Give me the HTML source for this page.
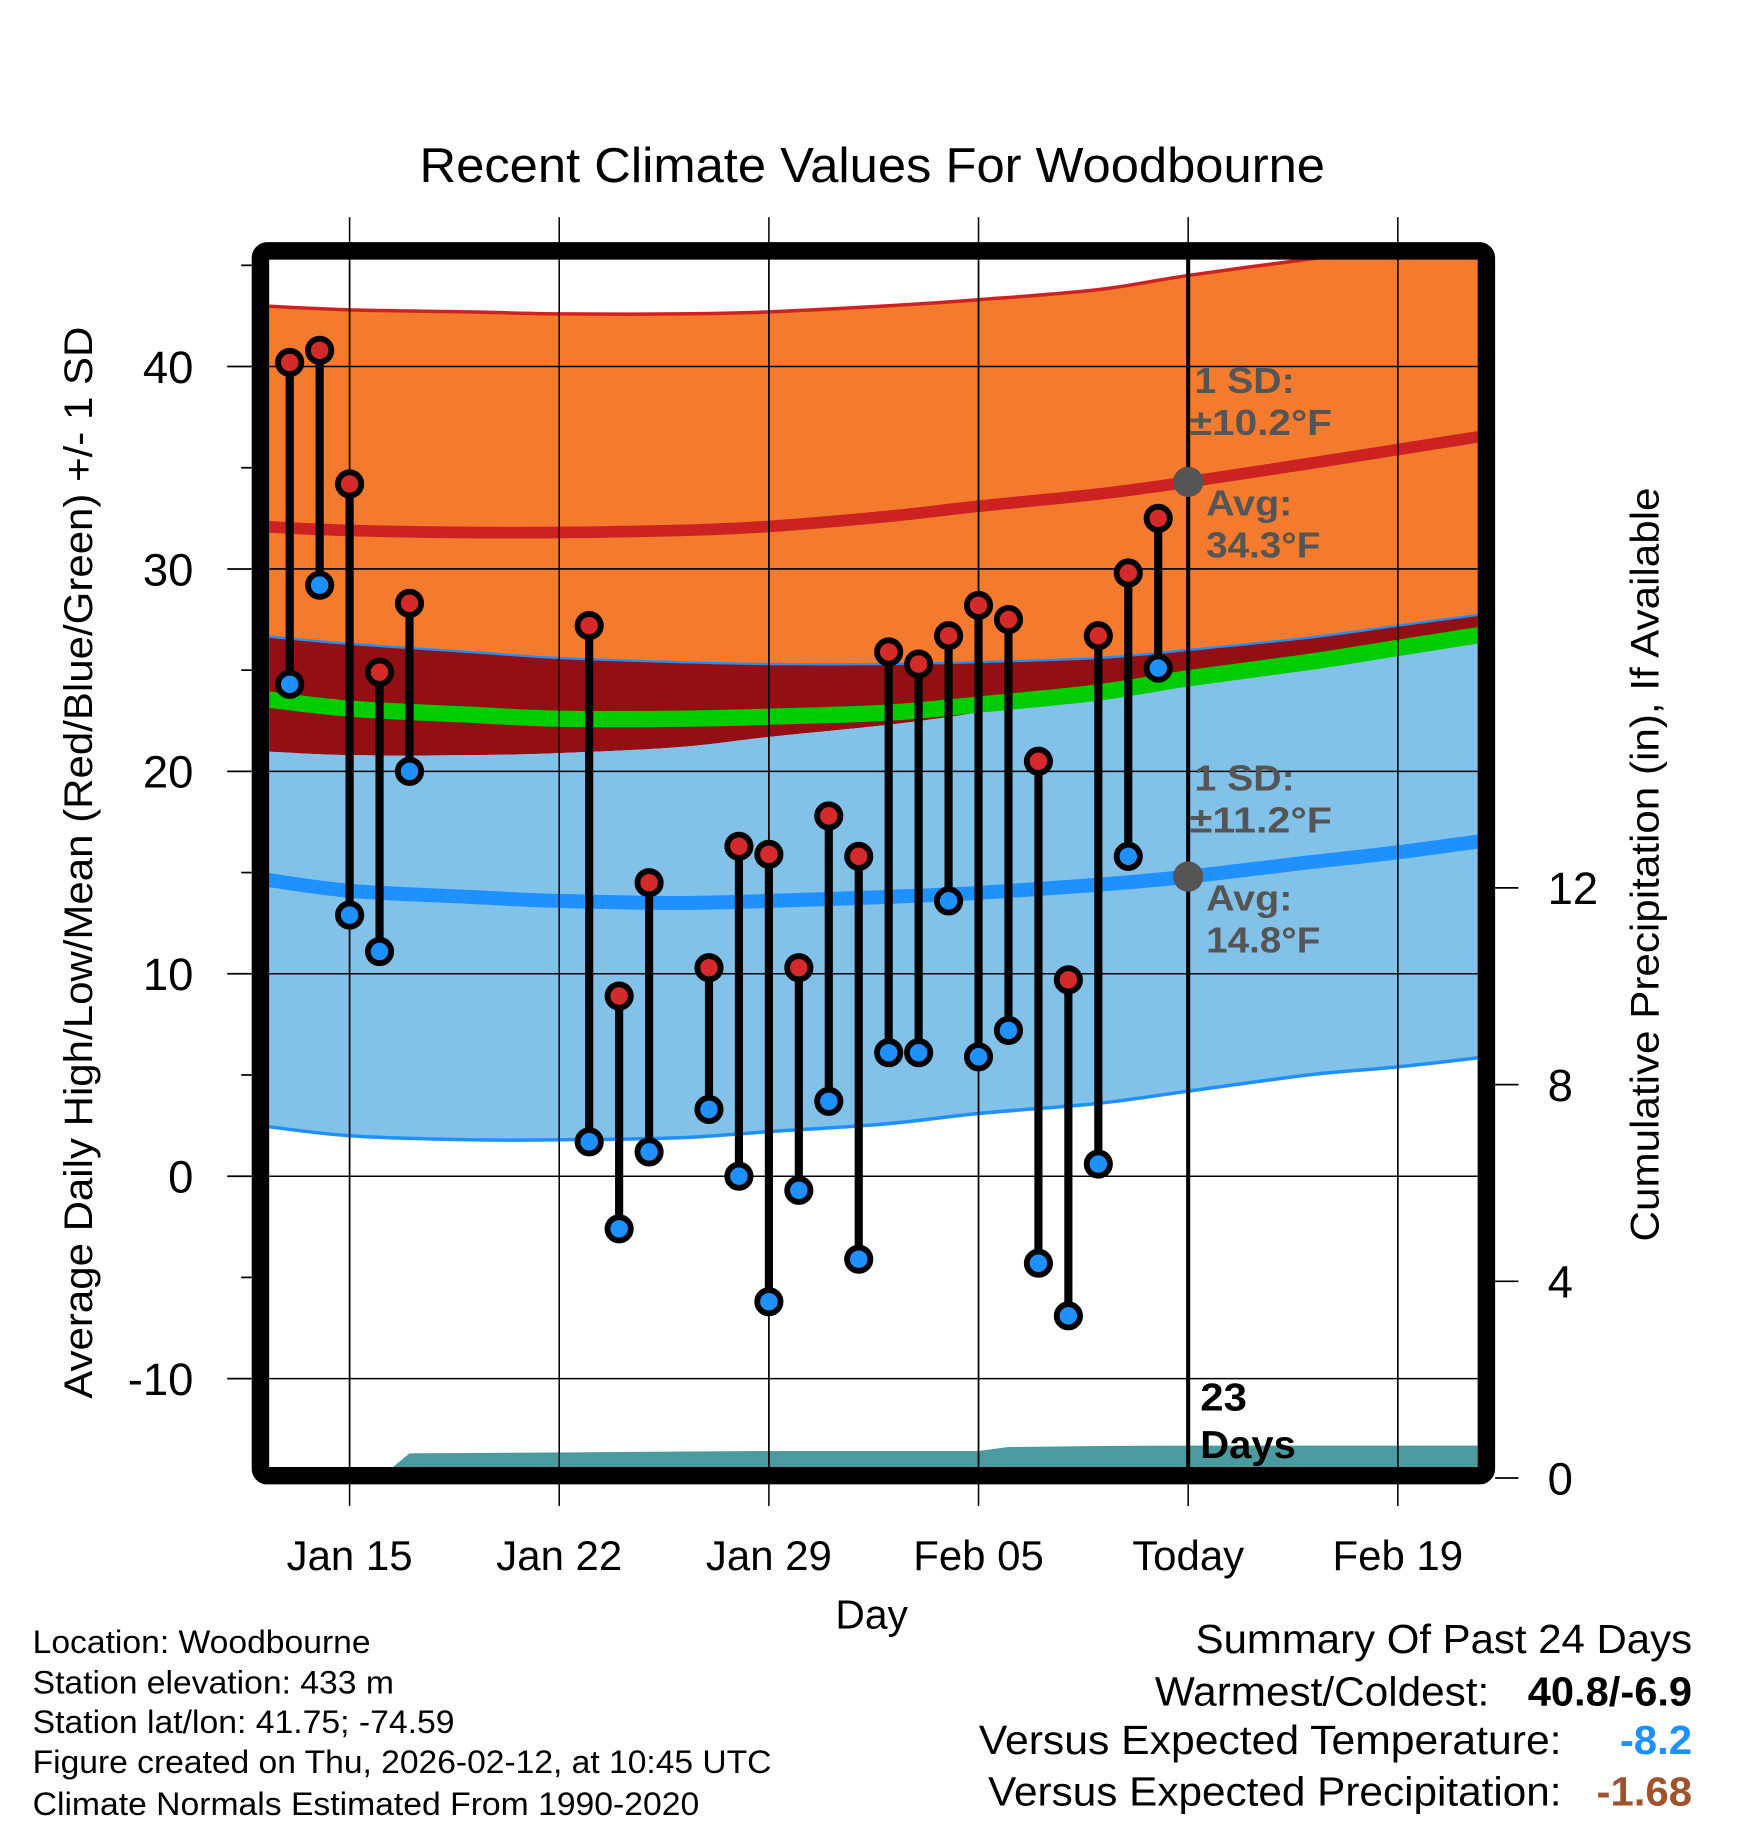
<!DOCTYPE html>
<html><head><meta charset="utf-8"><style>
html,body{margin:0;padding:0;background:#fff;}
svg{display:block;font-family:"Liberation Sans",Arial,sans-serif;}
</style></head><body>
<svg id="chart" width="1748" height="1828" viewBox="0 0 1500 1568" xmlns="http://www.w3.org/2000/svg">
<defs><clipPath id="plotClip"><rect x="231" y="222" width="1037" height="1037"/></clipPath></defs>
<text x="360" y="156" font-size="42" textLength="777" lengthAdjust="spacingAndGlyphs">Recent Climate Values For Woodbourne</text>
<g id="grid"></g>
<g id="plot" clip-path="url(#plotClip)"></g>
<g id="overlay"></g>
<text transform="translate(79,1200) rotate(-90)" font-size="34" textLength="920" lengthAdjust="spacingAndGlyphs">Average Daily High/Low/Mean (Red/Blue/Green) +/- 1 SD</text>
<text transform="translate(1423,1065) rotate(-90)" font-size="34" textLength="647" lengthAdjust="spacingAndGlyphs">Cumulative Precipitation (in), If Available</text>
<text x="748" y="1397" font-size="35" text-anchor="middle">Day</text>
<g font-size="28">
<text x="28" y="1418" textLength="290" lengthAdjust="spacingAndGlyphs">Location: Woodbourne</text>
<text x="28" y="1453" textLength="310" lengthAdjust="spacingAndGlyphs">Station elevation: 433 m</text>
<text x="28" y="1487" textLength="362" lengthAdjust="spacingAndGlyphs">Station lat/lon: 41.75; -74.59</text>
<text x="28" y="1521" textLength="634" lengthAdjust="spacingAndGlyphs">Figure created on Thu, 2026-02-12, at 10:45 UTC</text>
<text x="28" y="1557" textLength="572" lengthAdjust="spacingAndGlyphs">Climate Normals Estimated From 1990-2020</text>
</g>
<g font-size="35">
<text x="1026" y="1418" textLength="426" lengthAdjust="spacingAndGlyphs">Summary Of Past 24 Days</text>
<text x="991" y="1463" textLength="287" lengthAdjust="spacingAndGlyphs">Warmest/Coldest:</text>
<text x="1311" y="1463" font-weight="bold" textLength="141" lengthAdjust="spacingAndGlyphs">40.8/-6.9</text>
<text x="840" y="1505" textLength="500" lengthAdjust="spacingAndGlyphs">Versus Expected Temperature:</text>
<text x="1390" y="1505" font-weight="bold" fill="#1e90ff" textLength="62" lengthAdjust="spacingAndGlyphs">-8.2</text>
<text x="848" y="1549" textLength="492" lengthAdjust="spacingAndGlyphs">Versus Expected Precipitation:</text>
<text x="1370" y="1549" font-weight="bold" fill="#a0522d" textLength="82" lengthAdjust="spacingAndGlyphs">-1.68</text>
</g>
</svg>
<script>
// Data
const normDays = [12,15,19,22,26,29,33,36,40,43,47,50,53];
const highUpper = [43.0,42.8,42.7,42.6,42.6,42.7,43.0,43.3,43.8,44.5,45.3,45.8,46.3];
const highMean  = [32.1,31.9,31.8,31.8,31.9,32.1,32.6,33.1,33.7,34.3,35.2,35.9,36.6];
const highLower = [26.7,26.3,25.9,25.6,25.4,25.3,25.3,25.4,25.6,26.0,26.6,27.2,27.8];
const avgMean   = [23.6,23.1,22.8,22.6,22.6,22.7,22.9,23.3,23.9,24.6,25.4,26.1,26.8];
const lowUpper  = [21.0,20.8,20.8,20.9,21.2,21.7,22.3,22.9,23.8,24.5,25.5,26.3,27.0];
const lowMean   = [14.7,14.1,13.8,13.6,13.5,13.6,13.8,14.0,14.4,14.8,15.5,16.0,16.6];
const lowLower  = [2.5,2.0,1.8,1.8,1.9,2.2,2.6,3.1,3.6,4.2,5.0,5.4,5.9];
const obsDays = [13,14,15,16,17,23,24,25,27,28,29,30,31,32,33,34,35,36,37,38,39,40,41,42];
const obsHigh = [40.2,40.8,34.2,24.9,28.3,27.2,8.9,14.5,10.3,16.3,15.9,10.3,17.8,15.8,25.9,25.3,26.7,28.2,27.5,20.5,9.7,26.7,29.8,32.5];
const obsLow  = [24.3,29.2,12.9,11.1,20.0,1.7,-2.6,1.2,3.3,0.0,-6.2,-0.7,3.7,-4.1,6.1,6.1,13.6,5.9,7.2,-4.3,-6.9,0.6,15.8,25.1];
const precipDays = [12,16,17,22,29,36,37,40,43,54];
const precipVals = [0,0,0.5,0.52,0.55,0.55,0.63,0.65,0.66,0.66];
const yTicks = [-10,0,10,20,30,40];
const yMinor = [-5,5,15,25,35,45];
const pTicks = [0,4,8,12];
const xTickDays = [15,22,29,36,43,50];
const xTickLabels = ["Jan 15","Jan 22","Jan 29","Feb 05","Today","Feb 19"];

const X = d => 300 + (d-15)*25.7;
const Y = v => 1009 - v*17.37;
const P = v => 1268 - v*42.2;
const NS = "http://www.w3.org/2000/svg";
function mk(tag, attrs, parent){const e=document.createElementNS(NS,tag);for(const k in attrs)e.setAttribute(k,attrs[k]);parent.appendChild(e);return e;}
const grid=document.getElementById('grid'), plot=document.getElementById('plot'), ov=document.getElementById('overlay');
// smooth path through points (Catmull-Rom)
function smooth(arr){
  const p=normDays.map((d,i)=>[X(d),Y(arr[i])]);
  let s='M'+p[0][0]+','+p[0][1];
  for(let i=0;i<p.length-1;i++){
    const p0=p[i-1]||p[i],p1=p[i],p2=p[i+1],p3=p[i+2]||p2;
    const c1=[p1[0]+(p2[0]-p0[0])/6,p1[1]+(p2[1]-p0[1])/6];
    const c2=[p2[0]-(p3[0]-p1[0])/6,p2[1]-(p3[1]-p1[1])/6];
    s+=' C'+c1+' '+c2+' '+p2;
  }
  return s;
}
function smoothRev(arr){
  const p=normDays.map((d,i)=>[X(d),Y(arr[i])]).reverse();
  let s='L'+p[0][0]+','+p[0][1];
  for(let i=0;i<p.length-1;i++){
    const p0=p[i-1]||p[i],p1=p[i],p2=p[i+1],p3=p[i+2]||p2;
    const c1=[p1[0]+(p2[0]-p0[0])/6,p1[1]+(p2[1]-p0[1])/6];
    const c2=[p2[0]-(p3[0]-p1[0])/6,p2[1]-(p3[1]-p1[1])/6];
    s+=' C'+c1+' '+c2+' '+p2;
  }
  return s;
}
function band(a,b,fill,name){
  const e=mk('path',{d:smooth(a)+' '+smoothRev(b)+' Z',fill:fill},plot);
  
  
}
function line(a,stroke,w,name){
  const e=mk('path',{d:smooth(a),fill:'none',stroke:stroke,'stroke-width':w},plot);
  
  
}
band(highLower,lowUpper,'#940f14','overlap-band');
band(lowLower,lowUpper,'#82c1e8','low-sd-band');
band(highLower,highUpper,'#f47a2e','high-sd-band');
line(highUpper,'#cc2222',3,'high-upper-line');
line(highLower,'#1e90ff',2,'high-lower-line');
line(lowLower,'#1e90ff',3,'low-lower-line');
line(avgMean,'#00cc00',14,'mean-line');
line(highMean,'#cc2222',10,'high-mean-line');
line(lowMean,'#1e90ff',12,'low-mean-line');
// precip
{
  let p=precipDays.map((d,i)=>X(d)+','+P(precipVals[i]));
  p.push(X(54)+','+P(0)); p.push(X(12)+','+P(0));
  const e=mk('polygon',{points:p.join(' '),fill:'#4a9aa0'},plot);
  
  
}
yTicks.forEach(v=>{
  const l=mk('line',{x1:195,x2:216,y1:Y(v),y2:Y(v),stroke:'#000','stroke-width':1.5},grid);
  
  
  const t=mk('text',{x:166,y:Y(v)+14,'font-size':39,'text-anchor':'end'},grid);
  t.textContent=v;
  
  
});
yMinor.forEach(v=>{
  const l=mk('line',{x1:207,x2:216,y1:Y(v),y2:Y(v),stroke:'#000','stroke-width':1.5},grid);
  
  
});
xTickDays.forEach((d,i)=>{
  const l=mk('line',{x1:X(d),x2:X(d),y1:186,y2:1292,stroke:'#000','stroke-width':1.3},grid);
  
  
  const t=mk('text',{x:X(d),y:1347,'font-size':36,'text-anchor':'middle'},grid);
  t.textContent=xTickLabels[i];
  
  
});
pTicks.forEach(v=>{
  const l=mk('line',{x1:1283,x2:1303,y1:P(v),y2:P(v),stroke:'#000','stroke-width':1.5},grid);
  
  
  const t=mk('text',{x:1328,y:P(v)+14,'font-size':39,'text-anchor':'start'},grid);
  t.textContent=v;
  
  
});
grid.parentNode.insertBefore(plot, grid);
{
  const g=mk('g',{'clip-path':'url(#plotClip)'},ov);
  xTickDays.forEach(d=>{
    const l=mk('line',{x1:X(d),x2:X(d),y1:222,y2:1259,stroke:'#000','stroke-width':1.3},g);
    
    
  });
  yTicks.forEach(v=>{
    const l=mk('line',{x1:231,x2:1268,y1:Y(v),y2:Y(v),stroke:'#000','stroke-width':1.3},g);
    
    
  });
  const tl=mk('line',{x1:X(43),x2:X(43),y1:222,y2:1259,stroke:'#000','stroke-width':3.5},g);
  
  
}
function ann(txt,x,y,name,fill,size,len){
  const t=mk('text',{x:x,y:y,'font-size':size||31,'font-weight':'bold',fill:fill||'#555'},ov);
  if(len){t.setAttribute('textLength',len);t.setAttribute('lengthAdjust','spacingAndGlyphs');}
  t.textContent=txt;
  
  
}
ann('1 SD:',1025,337,'high-sd-label',null,31,86);
ann('±10.2°F',1021,373,'high-sd-value',null,31,122);
ann('Avg:',1035,442,'high-avg-label',null,31,74);
ann('34.3°F',1035,478,'high-avg-value',null,31,98);
ann('1 SD:',1025,678,'low-sd-label',null,31,86);
ann('±11.2°F',1021,714,'low-sd-value',null,31,122);
ann('Avg:',1035,781,'low-avg-label',null,31,74);
ann('14.8°F',1035,817,'low-avg-value',null,31,98);
ann('23',1030,1210,'days-count','#000',33,40);
ann('Days',1030,1251,'days-label','#000',33,82);
[[34.3,'high-avg-dot'],[14.8,'low-avg-dot']].forEach(a=>{
  const c=mk('circle',{cx:X(43),cy:Y(a[0]),r:13,fill:'#555'},ov);
  
  
});
obsDays.forEach((d,i)=>{
  const s=mk('line',{x1:X(d),x2:X(d),y1:Y(obsHigh[i]),y2:Y(obsLow[i]),stroke:'#000','stroke-width':7},ov);
  
  
  const h=mk('circle',{cx:X(d),cy:Y(obsHigh[i]),r:10,fill:'#d42a2a',stroke:'#000','stroke-width':5},ov);
  
  
  const l=mk('circle',{cx:X(d),cy:Y(obsLow[i]),r:10,fill:'#1e90ff',stroke:'#000','stroke-width':5},ov);
  
  
});
{
  const f=mk('rect',{x:223.5,y:215,width:1052,height:1051,rx:6,fill:'none',stroke:'#000','stroke-width':15},ov);
  
  
}
</script>
</body></html>
